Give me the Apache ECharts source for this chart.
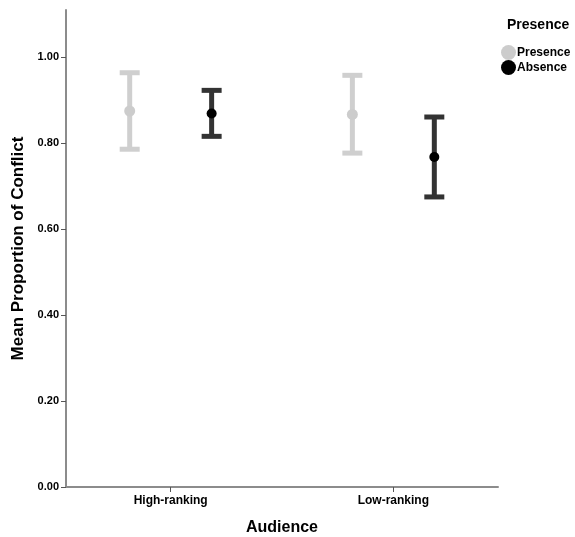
<!DOCTYPE html>
<html>
<head>
<meta charset="utf-8">
<script src="https://cdn.jsdelivr.net/npm/echarts@6/dist/echarts.min.js"></script>
<style>
  html, body { margin: 0; padding: 0; background: #fff; }
  #chart { width: 575px; height: 537px; }
</style>
</head>
<body>
<div id="chart"></div>
<script>
// 数据
const categories = ["High-ranking", "Low-ranking"];
const presenceMean = [0.875, 0.867];
const presenceLow = [0.786, 0.777];
const presenceHigh = [0.964, 0.958];
const absenceMean = [0.869, 0.768];
const absenceLow = [0.816, 0.675];
const absenceHigh = [0.923, 0.861];
const yTicks = [0, 0.2, 0.4, 0.6, 0.8, 1.0];

const dodge = 0.184; // 组内偏移
const font = "Liberation Sans, Arial, sans-serif";

function pos(i, side) {
  return i + 1 + side * dodge;
}

// 误差线
function errorBar(color) {
  return function (params, api) {
    const x = api.value(0);
    const top = api.coord([x, api.value(2)]);
    const bot = api.coord([x, api.value(1)]);
    const capW = 20, t = 5;
    return {
      type: "group",
      children: [
        { type: "rect", shape: { x: top[0] - t / 2, y: top[1], width: t, height: bot[1] - top[1] }, style: { fill: color } },
        { type: "rect", shape: { x: top[0] - capW / 2, y: top[1] - t / 2, width: capW, height: t }, style: { fill: color } },
        { type: "rect", shape: { x: bot[0] - capW / 2, y: bot[1] - t / 2, width: capW, height: t }, style: { fill: color } }
      ]
    };
  };
}

const presenceBars = categories.map((c, i) => [pos(i, -1), presenceLow[i], presenceHigh[i]]);
const absenceBars = categories.map((c, i) => [pos(i, 1), absenceLow[i], absenceHigh[i]]);
const presencePts = categories.map((c, i) => [pos(i, -1), presenceMean[i]]);
const absencePts = categories.map((c, i) => [pos(i, 1), absenceMean[i]]);

const myChart = echarts.init(document.getElementById("chart"));
const option = {
  animation: false,
  backgroundColor: "#fff",
  graphic: [
    {
      type: "text",
      left: 507,
      top: 18,
      style: { text: "Presence", font: "bold 14px " + font, fill: "#000" }
    }
  ],
  legend: {
    orient: "vertical",
    left: 496,
    top: 40,
    itemWidth: 15,
    itemHeight: 15,
    itemGap: 0,
    icon: "circle",
    data: [
      { name: "Presence", itemStyle: { color: "#cccccc" } },
      { name: "Absence", itemStyle: { color: "#000000" } }
    ],
    textStyle: { fontFamily: font, fontWeight: "bold", fontSize: 12, color: "#000", padding: [0, 0, 0, -4] }
  },
  grid: { left: 66, right: 77, top: 10, bottom: 50, outerBoundsMode: "none" },
  xAxis: {
    type: "value",
    min: 0.53,
    max: 2.47,
    name: "Audience",
    nameLocation: "middle",
    nameGap: 33,
    nameTextStyle: { fontFamily: font, fontWeight: "bold", fontSize: 16, color: "#000" },
    splitLine: { show: false },
    axisLine: { show: true, lineStyle: { color: "#8c8c8c", width: 2 } },
    axisTick: { show: true, customValues: [1, 2], length: 5, lineStyle: { color: "#555" } },
    axisLabel: {
      customValues: [1, 2],
      formatter: v => categories[Math.round(v) - 1] || "",
      fontFamily: font, fontWeight: "bold", fontSize: 12, color: "#000", margin: 8
    }
  },
  yAxis: {
    type: "value",
    min: 0,
    max: 1.11,
    name: "Mean Proportion of Conflict",
    nameLocation: "middle",
    nameGap: 38,
    nameTextStyle: { fontFamily: font, fontWeight: "bold", fontSize: 17, color: "#000" },
    splitLine: { show: false },
    axisLine: { show: true, lineStyle: { color: "#8c8c8c", width: 2 } },
    axisTick: { show: true, customValues: yTicks, length: 5, lineStyle: { color: "#555" } },
    axisLabel: {
      customValues: yTicks,
      formatter: v => v.toFixed(2),
      fontFamily: font, fontWeight: "bold", fontSize: 11, color: "#000", margin: 7
    }
  },
  series: [
    { name: "Presence", type: "custom", renderItem: errorBar("#cfcfcf"), data: presenceBars, z: 2 },
    { name: "Absence", type: "custom", renderItem: errorBar("#333333"), data: absenceBars, z: 2 },
    { name: "Presence", type: "scatter", symbolSize: 11, itemStyle: { color: "#cccccc", opacity: 1 }, data: presencePts, z: 3 },
    { name: "Absence", type: "scatter", symbolSize: 10, itemStyle: { color: "#000000", opacity: 1 }, data: absencePts, z: 3 }
  ]
};
myChart.setOption(option);
</script>
</body>
</html>
